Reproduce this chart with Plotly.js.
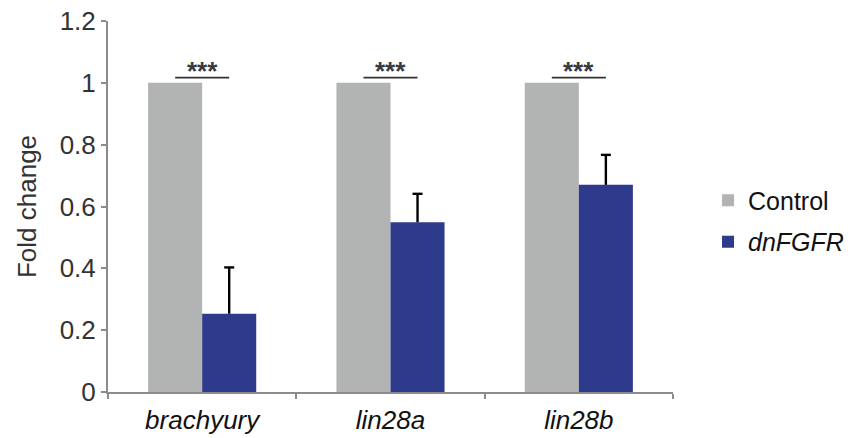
<!DOCTYPE html>
<html>
<head>
<meta charset="utf-8">
<script src="https://cdn.plot.ly/plotly-3.0.1.min.js"></script>
<style>
  html, body { margin: 0; padding: 0; background: #fff; }
  #chart { width: 848px; height: 438px; }
</style>
</head>
<body>
<div id="chart"></div>
<script>
// Genes on the x axis
var genes = ['<i>brachyury</i>', '<i>lin28a</i>', '<i>lin28b</i>'];
// Fold change per condition
var controlValues = [1, 1, 1];
var dnfgfrValues = [0.253, 0.549, 0.670];
var dnfgfrErrors = [0.150, 0.092, 0.097];
// Significance marks above each pair
var sigLabels = ['***', '***', '***'];
var sigLevel = 1.017;

var bargap = 0.426;
var barHalf = (1 - bargap) / 4; // centre of each bar relative to the category centre

var control = {
  type: 'bar', name: 'Control', x: genes, y: controlValues,
  legendgroup: 'a', marker: { color: '#b2b3b3' }
};
var dn = {
  type: 'bar', name: '<i>dnFGFR</i>', x: genes, y: dnfgfrValues,
  legendgroup: 'b', marker: { color: '#2e3a8c' }
};

var shapes = [];
var annotations = [];
sigLabels.forEach(function (lab, i) {
  shapes.push({ type: 'line', xref: 'x', yref: 'y',
    x0: i - barHalf, x1: i + barHalf, y0: sigLevel, y1: sigLevel,
    line: { color: '#333', width: 1.8 } });
  annotations.push({ xref: 'x', yref: 'y', x: i, y: sigLevel, text: '<b>' + lab + '</b>',
    showarrow: false, yanchor: 'bottom', yshift: -10,
    font: { family: 'Liberation Sans, Arial, sans-serif', size: 26, color: '#3a3a3a' } });
});

// One-sided (upper) error bars on the dnFGFR bars
dnfgfrValues.forEach(function (v, i) {
  var top = v + dnfgfrErrors[i];
  var xc = i + barHalf;
  shapes.push({ type: 'line', xref: 'x', yref: 'y', x0: xc, x1: xc, y0: v, y1: top,
    line: { color: '#000', width: 2.4 } });
  shapes.push({ type: 'line', xref: 'x', yref: 'y', xsizemode: 'pixel', xanchor: xc,
    x0: -5, x1: 5, y0: top, y1: top, line: { color: '#000', width: 2.4 } });
});

var layout = {
  width: 848, height: 438,
  margin: { l: 108, r: 175, t: 21, b: 46, autoexpand: false },
  paper_bgcolor: '#fff', plot_bgcolor: '#fff',
  barmode: 'group', bargap: bargap, bargroupgap: 0,
  font: { family: 'Liberation Sans, Arial, sans-serif', size: 26, color: '#333' },
  xaxis: {
    type: 'category', showline: true, linecolor: '#8c8c8c', linewidth: 2,
    ticks: 'outside', tickson: 'boundaries', ticklen: 5, tickwidth: 2, tickcolor: '#8c8c8c',
    showgrid: false, zeroline: false, automargin: false, ticklabelstandoff: 4,
    tickfont: { size: 26, color: '#111' }
  },
  yaxis: {
    range: [0, 1.2], dtick: 0.2, tick0: 0,
    showline: true, linecolor: '#8c8c8c', linewidth: 2,
    ticks: 'outside', ticklen: 5, tickwidth: 2, tickcolor: '#8c8c8c',
    showgrid: false, zeroline: false, automargin: false,
    tickfont: { size: 26, color: '#333' },
    title: { text: 'Fold change', font: { size: 26, color: '#333' }, standoff: 16 }
  },
  legend: {
    x: 1.062, y: 0.461, xanchor: 'left', yanchor: 'middle',
    font: { size: 25, color: '#111' }, traceorder: 'grouped', tracegroupgap: 6, itemwidth: 30
  },
  shapes: shapes,
  annotations: annotations
};

Plotly.newPlot('chart', [control, dn], layout, { displayModeBar: false, staticPlot: true });
</script>
</body>
</html>
